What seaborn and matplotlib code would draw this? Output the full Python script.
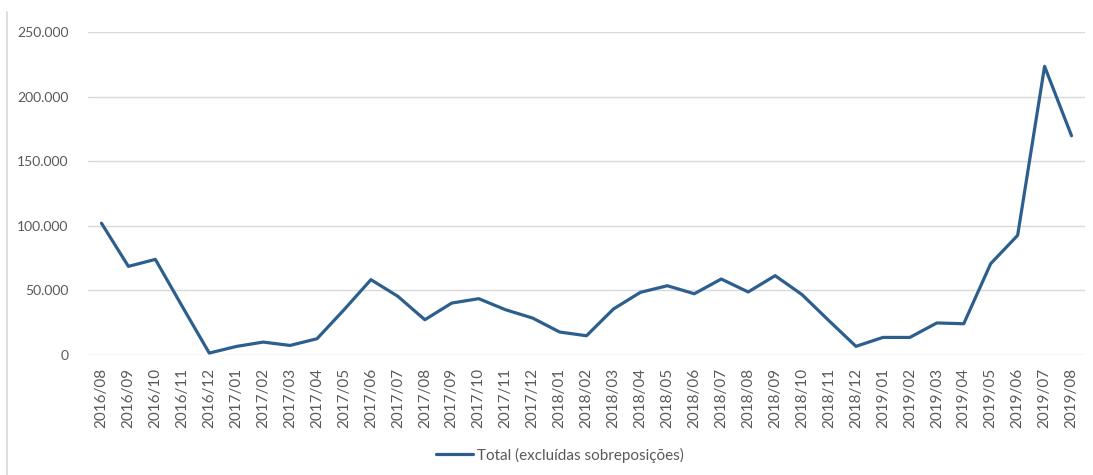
import matplotlib
matplotlib.use("Agg")
import matplotlib.pyplot as plt
from matplotlib.lines import Line2D
from matplotlib.ticker import FuncFormatter
import seaborn as sns
import pandas as pd

months = [
    "2016/08", "2016/09", "2016/10", "2016/11", "2016/12",
    "2017/01", "2017/02", "2017/03", "2017/04", "2017/05", "2017/06",
    "2017/07", "2017/08", "2017/09", "2017/10", "2017/11", "2017/12",
    "2018/01", "2018/02", "2018/03", "2018/04", "2018/05", "2018/06",
    "2018/07", "2018/08", "2018/09", "2018/10", "2018/11", "2018/12",
    "2019/01", "2019/02", "2019/03", "2019/04", "2019/05", "2019/06",
    "2019/07", "2019/08",
]
total = [
    102000, 68600, 74000, 37500, 1500,
    6600, 10000, 7400, 12600, 35000, 58300,
    45400, 27300, 40200, 43600, 35000, 28600,
    17800, 14900, 35600, 48500, 53600, 47400,
    58800, 48800, 61400, 46700, 26500, 6700,
    13600, 13600, 24800, 24200, 70700, 92600,
    223400, 169700,
]
series_label = "Total (excluídas sobreposições)"

df = pd.DataFrame({"mes": months, "total": total})

sns.set_theme(style="white")
plt.rcParams["font.family"] = ["Lato", "DejaVu Sans"]

line_color = "#2c5f8d"
text_color = "#595959"
grid_color = "#d9d9d9"

fig = plt.figure(figsize=(10.93, 4.75), dpi=100)
ax = fig.add_axes([88 / 1093, 1 - 355 / 475, 997 / 1093, (355 - 32) / 475])

sns.lineplot(data=df, x="mes", y="total", sort=False, color=line_color,
             linewidth=2.3, ax=ax, legend=False)

ax.set_ylim(0, 250000)
ax.set_yticks(range(0, 250001, 50000))
ax.yaxis.set_major_formatter(
    FuncFormatter(lambda v, _: f"{int(v):,}".replace(",", "."))
)
ax.set_xlim(-0.5, len(months) - 0.5)
ax.set_xticks(range(len(months)))
ax.set_xticklabels(months, rotation=90)

ax.grid(axis="y", color=grid_color, linewidth=1)
ax.set_axisbelow(True)
for s in ax.spines.values():
    s.set_visible(False)
ax.tick_params(axis="both", length=0, colors=text_color)
ax.tick_params(axis="x", pad=9, labelsize=11)
ax.tick_params(axis="y", pad=14, labelsize=10)
ax.set_xlabel("")
ax.set_ylabel("")

handle = Line2D([], [], color=line_color, linewidth=2.3)
fig.legend([handle], [series_label], loc="center", bbox_to_anchor=(560 / 1093, 1 - 455 / 475),
           frameon=False, fontsize=11, labelcolor=text_color, handlelength=2.4,
           handletextpad=0.25)

# chart frame edge on the left
fig.add_artist(Line2D([7 / 1093, 7 / 1093], [0, 1 - 12 / 475],
                      transform=fig.transFigure, color="#d9d9d9", linewidth=1.2))

fig.savefig("out.png", dpi=100)
